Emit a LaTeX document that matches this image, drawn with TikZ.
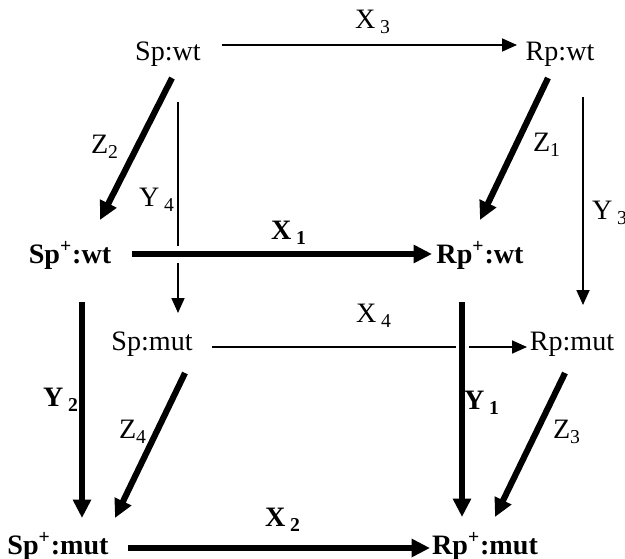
\documentclass[tikz,border=0pt]{standalone}
\usepackage{fontspec}
\setmainfont{Liberation Serif}
\usetikzlibrary{arrows.meta}
\tikzset{tarr/.style={line width=1pt,-{Triangle[length=3mm,width=2.6mm]}},
  barr/.style={line width=3.5pt,-{Triangle[length=3.7mm,width=3.5mm]}},
  st/.style={inner sep=0pt},
  bst/.style={inner sep=0pt,font=\fontsize{16}{19}\selectfont\bfseries}}

\begin{document}
\begin{tikzpicture}[x=0.02cm,y=-0.02cm,font=\fontsize{16}{19}\selectfont]
\useasboundingbox (0,0) rectangle (625,558);

% ===== states =====
\node[st]  (spwt)   at (168,54)  {Sp:wt};
\node[st]  (rpwt)   at (560,54)  {Rp:wt};
\node[bst] (sppwt)  at (70,255)  {Sp\textsuperscript{+}:wt};
\node[bst] (rppwt)  at (480,255) {Rp\textsuperscript{+}:wt};
\node[st]  (spmut)  at (152,344) {Sp:mut};
\node[st]  (rpmut)  at (572,344) {Rp:mut};
\node[bst] (sppmut) at (58,546)  {Sp\textsuperscript{+}:mut};
\node[bst] (rppmut) at (485,546) {Rp\textsuperscript{+}:mut};

% ===== back face (thin) =====
\draw[tarr] ([shift={(54,-9)}]spwt.center) -- ([shift={(-43,-9)}]rpwt.center);
\draw[tarr] ([shift={(10,48)}]spwt.center) -- ([shift={(26,-31)}]spmut.center);
\draw[tarr] ([shift={(23,43)}]rpwt.center) -- ([shift={(11,-39)}]rpmut.center);
\draw[tarr] ([shift={(60,3)}]spmut.center) -- ([shift={(-45,3)}]rpmut.center);

% ===== front face and diagonals (thick) =====
\draw[barr,preaction={draw=white,line width=3.4mm,-}] ([shift={(62,-1)}]sppwt.center) -- ([shift={(-48,-1)}]rppwt.center);
\draw[barr] ([shift={(12,47)}]sppwt.center) -- ([shift={(24,-28)}]sppmut.center);
\draw[barr,preaction={draw=white,line width=2.6mm,-}] ([shift={(-18,47)}]rppwt.center) -- ([shift={(-23,-29)}]rppmut.center);
\draw[barr] ([shift={(70,2)}]sppmut.center) -- ([shift={(-55,2)}]rppmut.center);
\draw[barr] ([shift={(4,24)}]spwt.center) -- ([shift={(30,-35)}]sppwt.center);
\draw[barr] ([shift={(-12,24)}]rpwt.center) -- ([shift={(0,-35)}]rppwt.center);
\draw[barr] ([shift={(33,29)}]spmut.center) -- ([shift={(57,-28)}]sppmut.center);
\draw[barr] ([shift={(-7,29)}]rpmut.center) -- ([shift={(10,-29)}]rppmut.center);

% ===== rate labels =====
\node[st] (lx3) at (373,22)  {X\,\textsubscript{3}};
\node[st] (lx4) at (374,316) {X\,\textsubscript{4}};
\node[st] (ly4) at (157,200) {Y\,\textsubscript{4}};
\node[st] (ly3) at (610,213) {Y\,\textsubscript{3}};
\node[st] (lz2) at (105,147) {Z\textsubscript{2}};
\node[st] (lz1) at (547,145) {Z\textsubscript{1}};
\node[st] (lz4) at (133,432) {Z\textsubscript{4}};
\node[st] (lz3) at (567,432) {Z\textsubscript{3}};
\node[bst] (lx1) at (289,233) {X\,\textsubscript{1}};
\node[bst] (lx2) at (283,520) {X\,\textsubscript{2}};
\node[bst] (ly2) at (61,400)  {Y\,\textsubscript{2}};
\node[bst] (ly1) at (482,403) {Y\,\textsubscript{1}};

\end{tikzpicture}
\end{document}
